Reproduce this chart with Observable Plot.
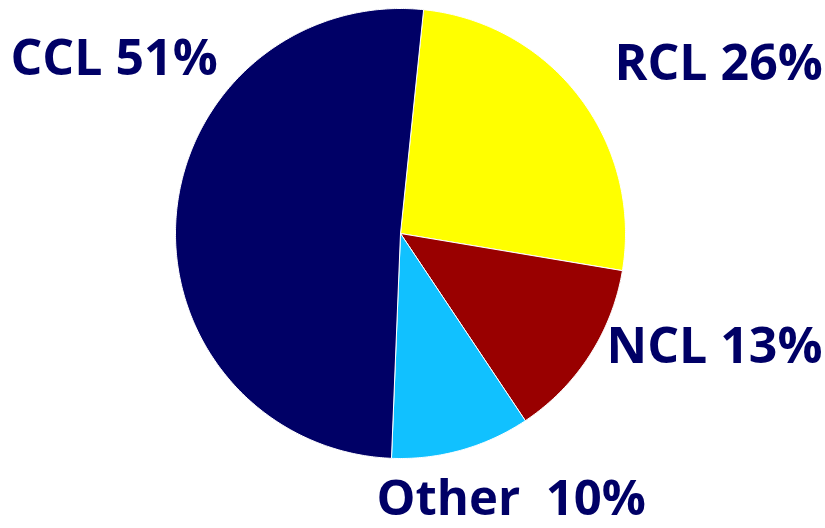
<!DOCTYPE html>
<html>
<head>
<meta charset="utf-8">
<script src="https://cdn.jsdelivr.net/npm/d3@7"></script>
<script src="https://cdn.jsdelivr.net/npm/@observablehq/plot@0.6"></script>
<style>
  html, body { margin: 0; padding: 0; background: #ffffff; }
  #chart svg { display: block; }
</style>
</head>
<body>
<div id="chart"></div>
<script>
// Data (clockwise order starting near 12 o'clock)
const categories = ["RCL", "NCL", "Other", "CCL"];
const shares = [26, 13, 10, 51];
const labels = ["RCL 26%", "NCL 13%", "Other\u00a0\u00a010%", "CCL 51%"];
const colors = ["#ffff00", "#990000", "#11c1ff", "#000066"];

// Layout
const W = 825, H = 528;
const cx = 400, cy = 233, r = 225;
const startDeg = 5.9;
const labelLayout = {
  "RCL": {frameAnchor: "top-left", dx: 614, dy: 79, size: 50},
  "NCL": {frameAnchor: "top-left", dx: 606, dy: 362, size: 50},
  "Other": {frameAnchor: "top-left", dx: 376, dy: 514, size: 49},
  "CCL": {frameAnchor: "top-left", dx: 10, dy: 74, size: 50}
};

const arcs = d3.pie().sort(null).startAngle(startDeg * Math.PI / 180)
  .endAngle(startDeg * Math.PI / 180 + 2 * Math.PI)(shares);

const pts = [];
arcs.forEach((a, i) => {
  const name = categories[i];
  pts.push({name, x: 0, y: 0});
  const n = Math.max(8, Math.ceil((a.endAngle - a.startAngle) / 0.01));
  for (let k = 0; k <= n; k++) {
    const t = a.startAngle + (a.endAngle - a.startAngle) * k / n;
    pts.push({name, x: Math.sin(t), y: Math.cos(t)});
  }
  pts.push({name, x: 0, y: 0});
});

const textMarks = categories.map((c, i) => Plot.text([labels[i]], {
  text: d => d,
  frameAnchor: labelLayout[c].frameAnchor,
  dx: labelLayout[c].dx,
  dy: labelLayout[c].dy,
  textAnchor: "start",
  lineAnchor: "bottom",
  fill: "#000066",
  fontSize: labelLayout[c].size,
  fontWeight: "bold",
  fontFamily: "Open Sans"
}));

const chart = Plot.plot({
  width: W,
  height: H,
  margin: 0,
  x: {domain: [-1, 1], range: [cx - r, cx + r], axis: null},
  y: {domain: [-1, 1], range: [cy + r, cy - r], axis: null},
  color: {domain: categories, range: colors},
  style: {background: "#ffffff", fontFamily: "Open Sans"},
  marks: [
    Plot.line(pts, {x: "x", y: "y", z: "name", fill: "name", stroke: "#ffffff", strokeWidth: 1, curve: "linear-closed"}),
    ...textMarks
  ]
});
document.getElementById("chart").appendChild(chart);
</script>
</body>
</html>
